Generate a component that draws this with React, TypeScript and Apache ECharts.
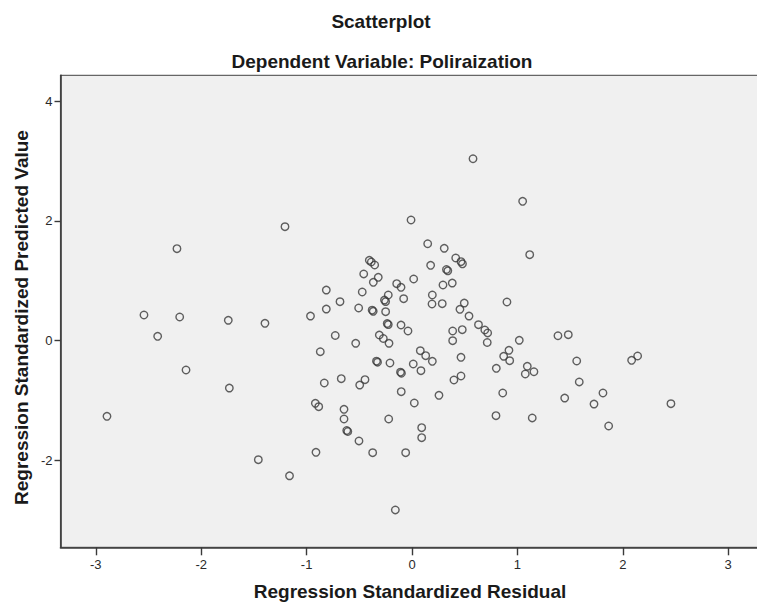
import React, { useEffect, useRef } from "react";
import * as echarts from "echarts";

// Regression standardized residual (x) per case
const residuals: number[] = [
  -1.205, -2.23, -2.543, -2.204, -1.743, -1.395, -0.963, -2.413, -2.144, -1.733,
  -2.894, -1.458, -1.162, -0.009, 0.149, 0.306, 0.415, 0.465, 0.479, -0.405,
  -0.386, -0.354, 0.177, 0.327, 0.34, -0.458, -0.32, -0.367, -0.145, -0.104,
  0.016, 0.294, 0.382, -0.813, -0.472, -0.225, -0.079, -0.261, -0.25, 0.193,
  0.19, 0.287, 0.496, -0.683, -0.813, -0.506, -0.378, -0.368, -0.25, 0.455,
  0.541, -0.235, -0.225, -0.104, -0.038, 0.631, 0.691, 0.718, 0.386, 0.477,
  -0.728, -0.534, -0.31, -0.272, -0.218, 0.386, 0.714, -0.87, 0.079, 0.13,
  0.193, 0.465, -0.337, -0.327, -0.209, -0.109, -0.1, 0.012, 0.085, -0.671,
  -0.832, -0.446, -0.496, 0.398, 0.465, -0.102, 0.256, 0.022, -0.917, -0.885,
  -0.645, -0.645, -0.221, -0.619, -0.609, -0.503, 0.092, 0.092, -0.911, -0.373,
  -0.06, -0.158, 0.579, 1.05, 1.117, 0.901, 1.018, 1.385, 1.483, 0.92,
  0.87, 0.927, 0.8, 1.094, 1.075, 1.157, 1.563, 1.587, 2.141, 2.084,
  0.861, 1.449, 1.812, 1.727, 2.457, 0.797, 1.141, 1.866,
];

// Regression standardized predicted value (y) per case
const predicted: number[] = [
  1.903, 1.536, 0.429, 0.396, 0.341, 0.29, 0.412, 0.073, -0.489, -0.79,
  -1.262, -1.987, -2.255, 2.015, 1.619, 1.543, 1.381, 1.319, 1.284, 1.342,
  1.314, 1.264, 1.259, 1.189, 1.167, 1.114, 1.058, 0.975, 0.952, 0.891,
  1.03, 0.93, 0.963, 0.846, 0.813, 0.763, 0.701, 0.679, 0.654, 0.763,
  0.613, 0.618, 0.629, 0.651, 0.529, 0.546, 0.509, 0.491, 0.484, 0.524,
  0.412, 0.287, 0.269, 0.262, 0.162, 0.267, 0.179, 0.129, 0.162, 0.184,
  0.087, -0.043, 0.095, 0.037, -0.043, 0.0, -0.03, -0.184, -0.167, -0.25,
  -0.344, -0.277, -0.342, -0.359, -0.372, -0.526, -0.543, -0.389, -0.501, -0.634,
  -0.706, -0.651, -0.74, -0.656, -0.589, -0.851, -0.912, -1.04, -1.045, -1.102,
  -1.145, -1.307, -1.307, -1.499, -1.516, -1.674, -1.452, -1.619, -1.863, -1.87,
  -1.87, -2.826, 3.038, 2.327, 1.436, 0.646, 0.007, 0.083, 0.1, -0.16,
  -0.26, -0.334, -0.461, -0.427, -0.556, -0.518, -0.339, -0.689, -0.255, -0.327,
  -0.873, -0.957, -0.873, -1.057, -1.052, -1.252, -1.29, -1.424,
];

const xTicks: number[] = [-3, -2, -1, 0, 1, 2, 3];
const yTicks: number[] = [-2, 0, 2, 4];

const chartTitle = "Scatterplot";
const chartSubtitle = "Dependent Variable: Poliraization";
const xAxisTitle = "Regression Standardized Residual";
const yAxisTitle = "Regression Standardized Predicted Value";

const FONT = "'Liberation Sans', Arial, sans-serif";

export default function App() {
  const ref = useRef<HTMLDivElement | null>(null);

  useEffect(() => {
    if (!ref.current) return;
    const chart = echarts.init(ref.current, undefined, { renderer: "svg" });
    const data = residuals.map((x, i) => [x, predicted[i]]);

    chart.setOption({
      animation: false,
      backgroundColor: "#ffffff",
      grid: {
        left: 60.5,
        top: 75.3,
        right: -3,
        bottom: 54.7,
        show: true,
        backgroundColor: "#f0f0f0",
        borderColor: "#666666",
        borderWidth: 1.2,
        containLabel: false,
        outerBoundsMode: "none",
      },
      xAxis: {
        type: "value",
        min: -3.335,
        max: 3.302,
        splitLine: { show: false },
        axisLine: { show: true, onZero: false, lineStyle: { color: "#3a3a3a", width: 1.6 } },
        axisTick: {
          show: true,
          customValues: xTicks,
          length: 8,
          lineStyle: { color: "#3a3a3a", width: 1.4 },
        },
        axisLabel: {
          customValues: xTicks,
          margin: 11,
          fontSize: 13,
          fontFamily: FONT,
          color: "#2a2a2a",
        },
      },
      yAxis: {
        type: "value",
        min: -3.449,
        max: 4.431,
        splitLine: { show: false },
        axisLine: { show: true, onZero: false, lineStyle: { color: "#3a3a3a", width: 1.6 } },
        axisTick: {
          show: true,
          customValues: yTicks,
          length: 6,
          lineStyle: { color: "#3a3a3a", width: 1.4 },
        },
        axisLabel: {
          customValues: yTicks,
          margin: 8,
          fontSize: 13,
          fontFamily: FONT,
          color: "#2a2a2a",
        },
      },
      graphic: [
        {
          type: "text",
          x: 381,
          y: 21.7,
          style: {
            text: chartTitle,
            align: "center",
            verticalAlign: "middle",
            font: `bold 19px ${FONT}`,
            fill: "#1a1a1a",
          },
        },
        {
          type: "text",
          x: 382,
          y: 61.7,
          style: {
            text: chartSubtitle,
            align: "center",
            verticalAlign: "middle",
            font: `bold 19px ${FONT}`,
            fill: "#1a1a1a",
          },
        },
        {
          type: "text",
          x: 410,
          y: 591,
          style: {
            text: xAxisTitle,
            align: "center",
            verticalAlign: "middle",
            font: `bold 19px ${FONT}`,
            fill: "#1a1a1a",
          },
        },
        {
          type: "text",
          x: 21,
          y: 317.5,
          rotation: Math.PI / 2,
          style: {
            text: yAxisTitle,
            align: "center",
            verticalAlign: "middle",
            font: `bold 19px ${FONT}`,
            fill: "#1a1a1a",
          },
        },
      ],
      series: [
        {
          type: "scatter",
          data,
          symbol: "circle",
          symbolSize: 7.5,
          itemStyle: {
            color: "rgba(0,0,0,0)",
            borderColor: "#3a3a3a",
            borderWidth: 1.4,
          },
          emphasis: { disabled: true },
        },
      ],
    });

    return () => chart.dispose();
  }, []);

  return (
    <div
      ref={ref}
      style={{ position: "absolute", left: 0, top: 0, width: 757, height: 602 }}
    />
  );
}
